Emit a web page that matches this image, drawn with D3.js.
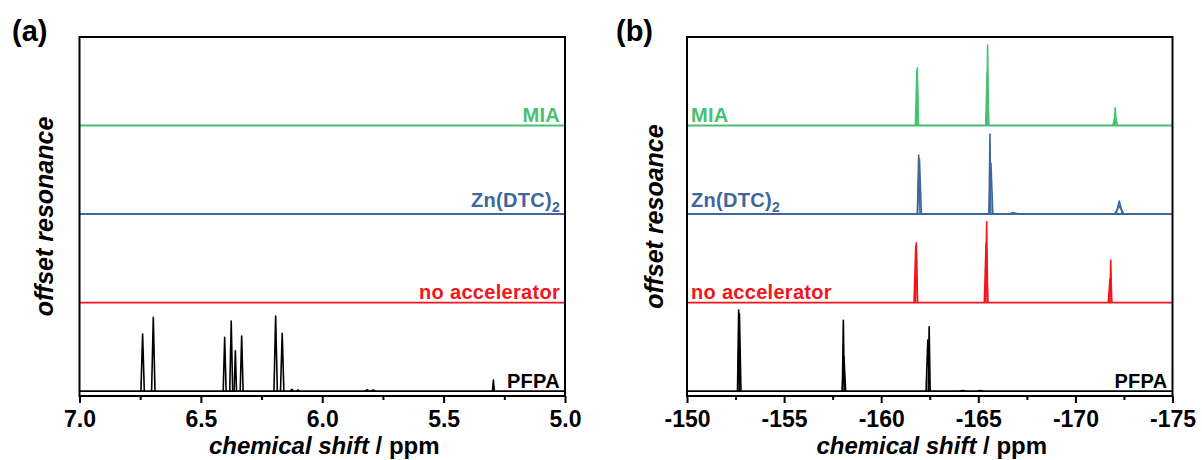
<!DOCTYPE html>
<html><head><meta charset="utf-8">
<script src="https://cdn.jsdelivr.net/npm/d3@7"></script>
<style>body{margin:0;background:#fff}svg{display:block}text{font-family:"Liberation Sans",Arial,sans-serif;font-weight:bold}</style>
</head><body><svg id="chart" width="1202" height="460"></svg>
<script>
// ---------- data ----------
const seriesNames = ["PFPA", "no accelerator", "Zn(DTC)2", "MIA"];
const seriesOffsets = [0, 1, 2, 3];
// panel (a): 1H peaks [ppm, height, half-width]
const pfpaH = [[6.740,0.644,0.007],[6.696,0.833,0.007],[6.402,0.607,0.006],[6.375,0.791,0.006],[6.358,0.455,0.005],[6.332,0.621,0.006],[6.192,0.847,0.007],[6.165,0.652,0.007],[6.125,0.020,0.006],[6.100,0.012,0.006],[5.815,0.015,0.008],[5.790,0.012,0.008],[5.295,0.124,0.004]];
const noAccH = [];
const znH = [];
const miaH = [];
// panel (b): 19F peaks [ppm, height, half-width]
const pfpaF = [[-152.66,0.915,0.06],[-152.70,0.87,0.08],[-158.05,0.80,0.05],[-158.08,0.39,0.09],[-162.47,0.727,0.05],[-162.40,0.576,0.09],[-164.2,0.006,0.15],[-165.1,0.006,0.15]];
const noAccF = [[-161.81,0.676,0.06],[-161.78,0.64,0.09],[-165.43,0.913,0.05],[-165.40,0.672,0.09],[-171.82,0.48,0.05],[-171.78,0.262,0.09]];
const znF = [[-161.93,0.667,0.07],[-161.97,0.62,0.10],[-165.60,0.904,0.05],[-165.65,0.573,0.10],[-166.8,0.015,0.3],[-172.26,0.147,0.17],[-172.26,0.09,0.24]];
const miaF = [[-161.86,0.653,0.05],[-161.84,0.62,0.08],[-165.48,0.91,0.045],[-165.46,0.608,0.08],[-172.05,0.2,0.05],[-172.05,0.107,0.12]];
const majorTicksA = [7.0, 6.5, 6.0, 5.5, 5.0];
const minorTicksA = [6.75, 6.25, 5.75, 5.25];
const majorTicksB = [-150, -155, -160, -165, -170, -175];
const minorTicksB = [-152.5, -157.5, -162.5, -167.5, -172.5];
const yLabelA = "offset resonance";
const yLabelB = "offset resoance";

// ---------- drawing ----------
const colors = ["#000000", "#f5141b", "#3e679c", "#47c072"];
const svg = d3.select("#chart");
const plotTop = 37, plotBottom = 396;
const y = d3.scaleLinear().domain([-0.056, 4.0]).range([plotBottom, plotTop]);

function panel(cfg) {
  const x = d3.scaleLinear().domain(cfg.domain).range(cfg.range);
  const g = svg.append("g");
  const clipId = "clip" + cfg.id;
  svg.append("clipPath").attr("id", clipId).append("rect")
    .attr("x", cfg.range[0]).attr("y", plotTop).attr("width", cfg.range[1] - cfg.range[0]).attr("height", plotBottom - plotTop);
  const line = d3.line().x(d => x(d[0])).y(d => y(d[1]));
  cfg.series.forEach((peaks, i) => {
    const off = seriesOffsets[i];
    const sg = g.append("g").attr("clip-path", `url(#${clipId})`)
      .attr("fill", "none").attr("stroke", colors[i]).attr("stroke-width", 1.8).attr("stroke-linejoin", "round");
    sg.append("path").attr("d", line([[cfg.domain[0], off], [cfg.domain[1], off]]));
    peaks.forEach(p => {
      sg.append("path").attr("stroke-width", 1.6)
        .attr("d", line([[p[0] + p[2], off], [p[0], off + p[1]], [p[0] - p[2], off]]));
    });
  });
  // frame
  g.append("rect").attr("x", cfg.range[0]).attr("y", plotTop)
    .attr("width", cfg.range[1] - cfg.range[0]).attr("height", plotBottom - plotTop)
    .attr("fill", "none").attr("stroke", "#000").attr("stroke-width", 2);
  // axes
  const ax = g.append("g").attr("transform", `translate(0,${plotBottom})`)
    .call(d3.axisBottom(x).tickValues(cfg.major).tickSize(7).tickSizeOuter(0).tickFormat(cfg.fmt));
  ax.select(".domain").remove();
  ax.selectAll(".tick line").attr("stroke-width", 2);
  ax.selectAll("text").attr("y", 31).attr("dy", 0).style("font-size", "23px").attr("fill", "#000");
  const mx = g.append("g").attr("transform", `translate(0,${plotBottom})`)
    .call(d3.axisBottom(x).tickValues(cfg.minor).tickSize(4).tickFormat(""));
  mx.select(".domain").remove();
  mx.selectAll(".tick line").attr("stroke-width", 2);
  // x label
  const xl = g.append("text").attr("x", (cfg.range[0] + cfg.range[1]) / 2 + 2).attr("y", 454)
    .attr("text-anchor", "middle").style("font-size", "24px");
  xl.append("tspan").style("font-style", "italic").text("chemical shift");
  xl.append("tspan").text(" / ppm");
  // y label
  g.append("text").attr("transform", `translate(${cfg.yLabelX},216.5) rotate(-90)`)
    .attr("text-anchor", "middle").style("font-size", "25px").style("font-style", "italic").text(cfg.yLabel);
  // panel letter
  g.append("text").attr("x", cfg.letterX).attr("y", 41).style("font-size", "29px").text(cfg.letter);
  // series labels
  const labelY = [387.5, 299, 207, 121.5];
  cfg.series.forEach((s, i) => {
    const right = cfg.labelRight || i === 0;
    const t = g.append("text")
      .attr("x", right ? cfg.range[1] - 5 : cfg.range[0] + 4)
      .attr("y", labelY[i])
      .attr("text-anchor", right ? "end" : "start")
      .attr("fill", colors[i]).style("font-size", "20px").style("letter-spacing", "0.3px");
    const name = seriesNames[i];
    if (name === "Zn(DTC)2") {
      t.append("tspan").text("Zn(DTC)");
      t.append("tspan").attr("dy", 5).style("font-size", "14px").text("2");
    } else t.text(name);
  });
}

panel({id: "a", domain: [7, 5], range: [79.5, 565], series: [pfpaH, noAccH, znH, miaH],
  major: majorTicksA, minor: minorTicksA, fmt: d3.format(".1f"),
  yLabel: yLabelA, yLabelX: 53, letter: "(a)", letterX: 12, labelRight: true});
panel({id: "b", domain: [-150, -175], range: [687, 1172.5], series: [pfpaF, noAccF, znF, miaF],
  major: majorTicksB, minor: minorTicksB, fmt: d => String(d),
  yLabel: yLabelB, yLabelX: 663, letter: "(b)", letterX: 616, labelRight: false});
</script></body></html>
